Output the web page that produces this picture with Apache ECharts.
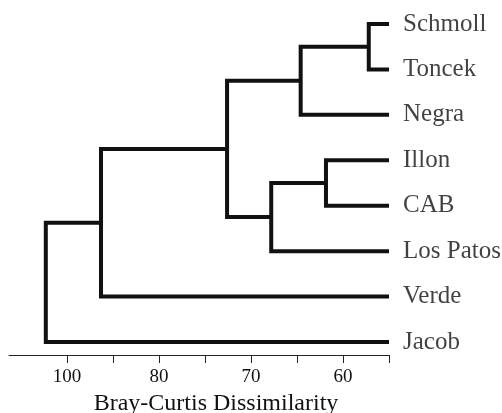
<!DOCTYPE html>
<html>
<head>
<meta charset="utf-8">
<script src="https://cdn.jsdelivr.net/npm/echarts@6/dist/echarts.min.js"></script>
<style>html,body{margin:0;padding:0;background:#fff}#c{width:502px;height:413px}</style>
</head>
<body>
<div id="c"></div>
<script>
// Leaves, top to bottom
var leaves = ["Schmoll", "Toncek", "Negra", "Illon", "CAB", "Los Patos", "Verde", "Jacob"];
// Merges: [childA, childB, height]; new node ids continue after the leaves (8, 9, ...)
var mergeA = [0, 8, 3, 10, 9, 12, 13];
var mergeB = [1, 2, 4, 5, 11, 6, 7];
var mergeHeight = [57.2, 64.6, 61.85, 67.8, 72.6, 86.3, 92.3];
// Axis ticks / labels (the printed labels, as on the original figure)
var tickValues = [55, 60, 65, 70, 75, 80, 85, 90];
var labelValues = [90, 80, 70, 60];
var tickLabels = ["100", "80", "70", "60"];
var leafHeight = 55;

var nodeX = [], nodeY = [];
leaves.forEach(function (n, i) { nodeX.push(leafHeight); nodeY.push(i); });
var series = [];
for (var k = 0; k < mergeA.length; k++) {
  var a = mergeA[k], b = mergeB[k], h = mergeHeight[k];
  series.push({
    type: 'line', symbol: 'none', silent: true, animation: false,
    lineStyle: { color: '#111', width: 4, cap: 'butt', join: 'miter' },
    data: [[nodeX[a], nodeY[a]], [h, nodeY[a]], [h, nodeY[b]], [nodeX[b], nodeY[b]]]
  });
  nodeX.push(h);
  nodeY.push((nodeY[a] + nodeY[b]) / 2);
}
series.push({
  type: 'scatter', symbolSize: 0, silent: true, animation: false,
  data: leaves.map(function (n, i) { return { value: [leafHeight, i], name: n }; }),
  label: {
    show: true, position: 'right', distance: 14,
    formatter: function (p) { return p.name; },
    fontFamily: 'Liberation Serif', fontSize: 25, color: '#111'
  }
});

var chart = echarts.init(document.getElementById('c'));
chart.setOption({
  backgroundColor: '#fff',
  grid: { left: 9, right: 113, top: 0, bottom: 58, outerBoundsMode: 'none', containLabel: false },
  xAxis: {
    type: 'value', inverse: true, min: 55, max: 96.3, position: 'bottom',
    splitLine: { show: false },
    axisLine: { show: true, onZero: false, lineStyle: { color: '#222', width: 1 } },
    axisTick: { show: true, length: 8, customValues: tickValues, lineStyle: { color: '#222', width: 1 } },
    axisLabel: {
      customValues: labelValues, margin: 13,
      fontFamily: 'Liberation Serif', fontSize: 19, color: '#111',
      formatter: function (v) { var i = labelValues.indexOf(v); return i >= 0 ? tickLabels[i] : ''; }
    },
    name: 'Bray-Curtis Dissimilarity', nameLocation: 'middle', nameGap: 36,
    nameTextStyle: { fontFamily: 'Liberation Serif', fontSize: 24, color: '#111', padding: [0, 0, 0, 34] }
  },
  yAxis: {
    type: 'value', inverse: true, min: -0.528, max: 7.286, show: false
  },
  series: series
});
</script>
</body>
</html>
